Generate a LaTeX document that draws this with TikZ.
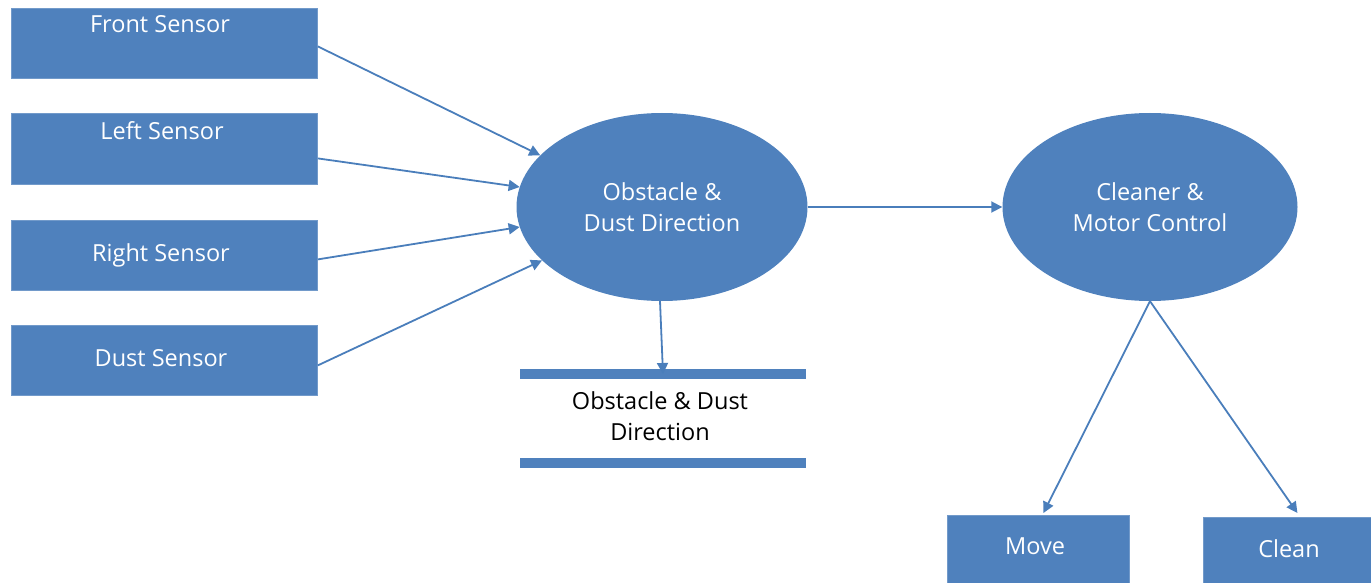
\documentclass[tikz,border=0pt]{standalone}
\usepackage{fontspec}
\setmainfont{Open Sans}
\usetikzlibrary{arrows.meta,shapes.geometric}
\definecolor{flowblue}{HTML}{4F81BD}
\definecolor{linkblue}{HTML}{4A7EBB}
\tikzset{
  labelfont/.style={font=\fontsize{23.5}{31}\selectfont},
  procbox/.style={rectangle, fill=flowblue, draw=flowblue!80!white, line width=0.8pt,
    inner sep=0pt, anchor=north west},
  procell/.style={ellipse, fill=flowblue, inner sep=0pt, text=white,
    labelfont, align=center},
  boxtext/.style={text=white, labelfont, inner sep=0pt},
  storebar/.style={rectangle, fill=flowblue, inner sep=0pt, minimum width=286pt, minimum height=10pt},
  flow/.style={draw=linkblue, line width=1.8pt, -{Triangle[width=11pt,length=11pt]}}
}
\begin{document}
\begin{tikzpicture}[x=1pt,y=-1pt]
\useasboundingbox (0,0) rectangle (1371,583);

% sensor inputs
\node[procbox, minimum width=306pt, minimum height=70pt] (front) at (11,8) {};
\node[boxtext] (fronttxt) at (160,24) {Front Sensor};
\node[procbox, minimum width=306pt, minimum height=71pt] (left) at (11,113) {};
\node[boxtext] (lefttxt) at (162,131) {Left Sensor};
\node[procbox, minimum width=306pt, minimum height=70pt] (right) at (11,220) {};
\node[boxtext] (righttxt) at (161,255) {Right Sensor};
\node[procbox, minimum width=306pt, minimum height=70pt] (dust) at (11,325) {};
\node[boxtext] (dusttxt) at (161,358) {Dust Sensor};

% processes
\node[procell, minimum width=291pt, minimum height=188pt] (detect) at (662,207)
  {Obstacle \&\\Dust Direction};
\node[procell, minimum width=295pt, minimum height=188pt] (control) at (1150,207)
  {Cleaner \&\\Motor Control};

% data store
\node[storebar] (storetop) at (663,374) {};
\node[storebar] (storebot) at (663,462.5) {};
\node[labelfont, align=center, inner sep=0pt] (storetxt) at (660,416)
  {Obstacle \& Dust\\Direction};

% outputs
\node[procbox, minimum width=182pt, minimum height=68pt] (move) at (947,515) {};
\node[boxtext] (movetxt) at (1035,546) {Move};
\node[procbox, minimum width=168pt, minimum height=66pt] (clean) at (1203,517) {};
\node[boxtext] (cleantxt) at (1289,549) {Clean};

% data flows
\draw[flow] ([yshift=-3pt]front.east) -- (detect.157);
\draw[flow] ([yshift=-9.5pt]left.east) -- (detect.172);
\draw[flow] ([yshift=-4pt]right.east) -- (detect.188);
\draw[flow] ([yshift=-5pt]dust.east) -- (detect.204);
\draw[flow] (detect.east) -- (control.west);
\draw[flow] ([xshift=-2pt]detect.south) -- (storetop.center);
\draw[flow] (control.south) -- ([xshift=5pt,yshift=2pt]move.north);
\draw[flow] (control.south) -- ([xshift=10pt,yshift=4pt]clean.north);
\end{tikzpicture}
\end{document}
